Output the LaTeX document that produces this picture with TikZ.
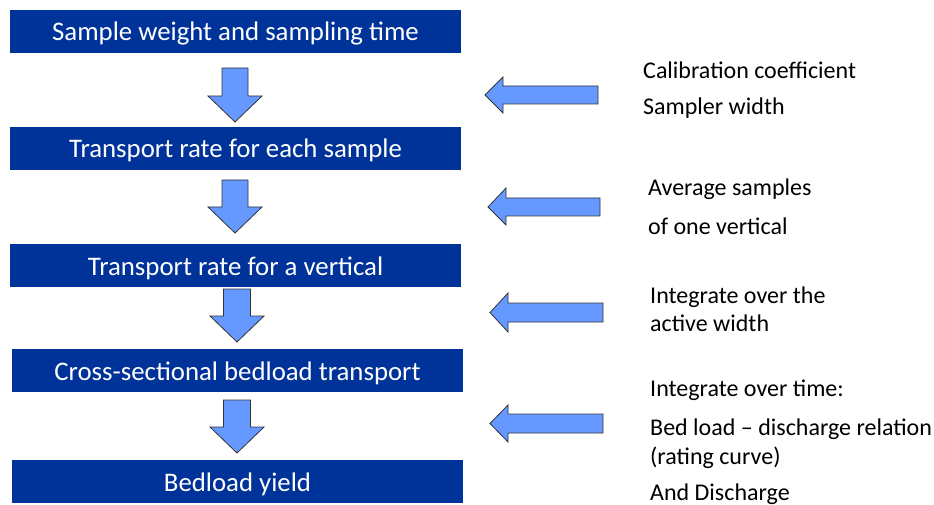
\documentclass[tikz,border=0pt]{standalone}
\usepackage{fontspec}
\setmainfont{Carlito}
\definecolor{boxblue}{HTML}{003399}
\definecolor{arrowblue}{HTML}{6699FF}
\definecolor{arrowline}{HTML}{333333}
\begin{document}
\begin{tikzpicture}[x=1pt,y=-1pt,
  stepbox/.style={fill=boxblue,text=white,minimum width=451pt,minimum height=43pt,inner sep=0pt,text height=19pt,text depth=0pt,font=\fontsize{26.8}{32}\selectfont},
  note/.style={anchor=base west,inner sep=0pt,font=\fontsize{24}{28}\selectfont},
  blockarrow/.style={fill=arrowblue,draw=arrowline,line width=0.8pt,line join=miter}]
\useasboundingbox (0,0) rectangle (934,505);
\node[stepbox] (b1) at (235.5,31.5) {Sample weight and sampling time};
\node[stepbox] (b2) at (235.5,148.5) {Transport rate for each sample};
\node[stepbox] (b3) at (235.5,265.5) {Transport rate for a vertical};
\node[stepbox] (b4) at (237.5,370.5) {Cross-sectional bedload transport};
\node[stepbox] (b5) at (237.5,481.5) {Bedload yield};
% down arrows
\draw[blockarrow] (222,68) -- (248,68) -- (248,96) -- (262,96) -- (235,122) -- (208,96) -- (222,96) -- cycle;
\draw[blockarrow] (222,180) -- (248,180) -- (248,207) -- (262,207) -- (235,233) -- (208,207) -- (222,207) -- cycle;
\draw[blockarrow] (223.5,289) -- (250.5,289) -- (250.5,316) -- (264,316) -- (237,342) -- (210,316) -- (223.5,316) -- cycle;
\draw[blockarrow] (223.5,400) -- (250.5,400) -- (250.5,427) -- (264,427) -- (237,453) -- (210,427) -- (223.5,427) -- cycle;
% left arrows
\draw[blockarrow] (598,86) -- (503,86) -- (503,77) -- (485,95) -- (503,113) -- (503,104) -- (598,104) -- cycle;
\draw[blockarrow] (600,198) -- (506,198) -- (506,188) -- (488,207) -- (506,225) -- (506,216) -- (600,216) -- cycle;
\draw[blockarrow] (603,303) -- (508,303) -- (508,293) -- (490,312.5) -- (508,332) -- (508,322) -- (603,322) -- cycle;
\draw[blockarrow] (603,414) -- (508,414) -- (508,405) -- (490,423.5) -- (508,442) -- (508,433) -- (603,433) -- cycle;
% notes
\node[note] (n1) at (643,79) {Calibration coefficient};
\node[note] (n2) at (643,115) {Sampler width};
\node[note] (n3) at (648,196) {Average samples};
\node[note] (n4) at (648,234) {of one vertical};
\node[note] (n5) at (650,303) {Integrate over the};
\node[note] (n6) at (650,331) {active width};
\node[note] (n7) at (650,396) {Integrate over time:};
\node[note] (n8) at (650,435) {Bed load -- discharge relation};
\node[note] (n9) at (650,464) {(rating curve)};
\node[note] (n10) at (650,500) {And Discharge};
\end{tikzpicture}
\end{document}
